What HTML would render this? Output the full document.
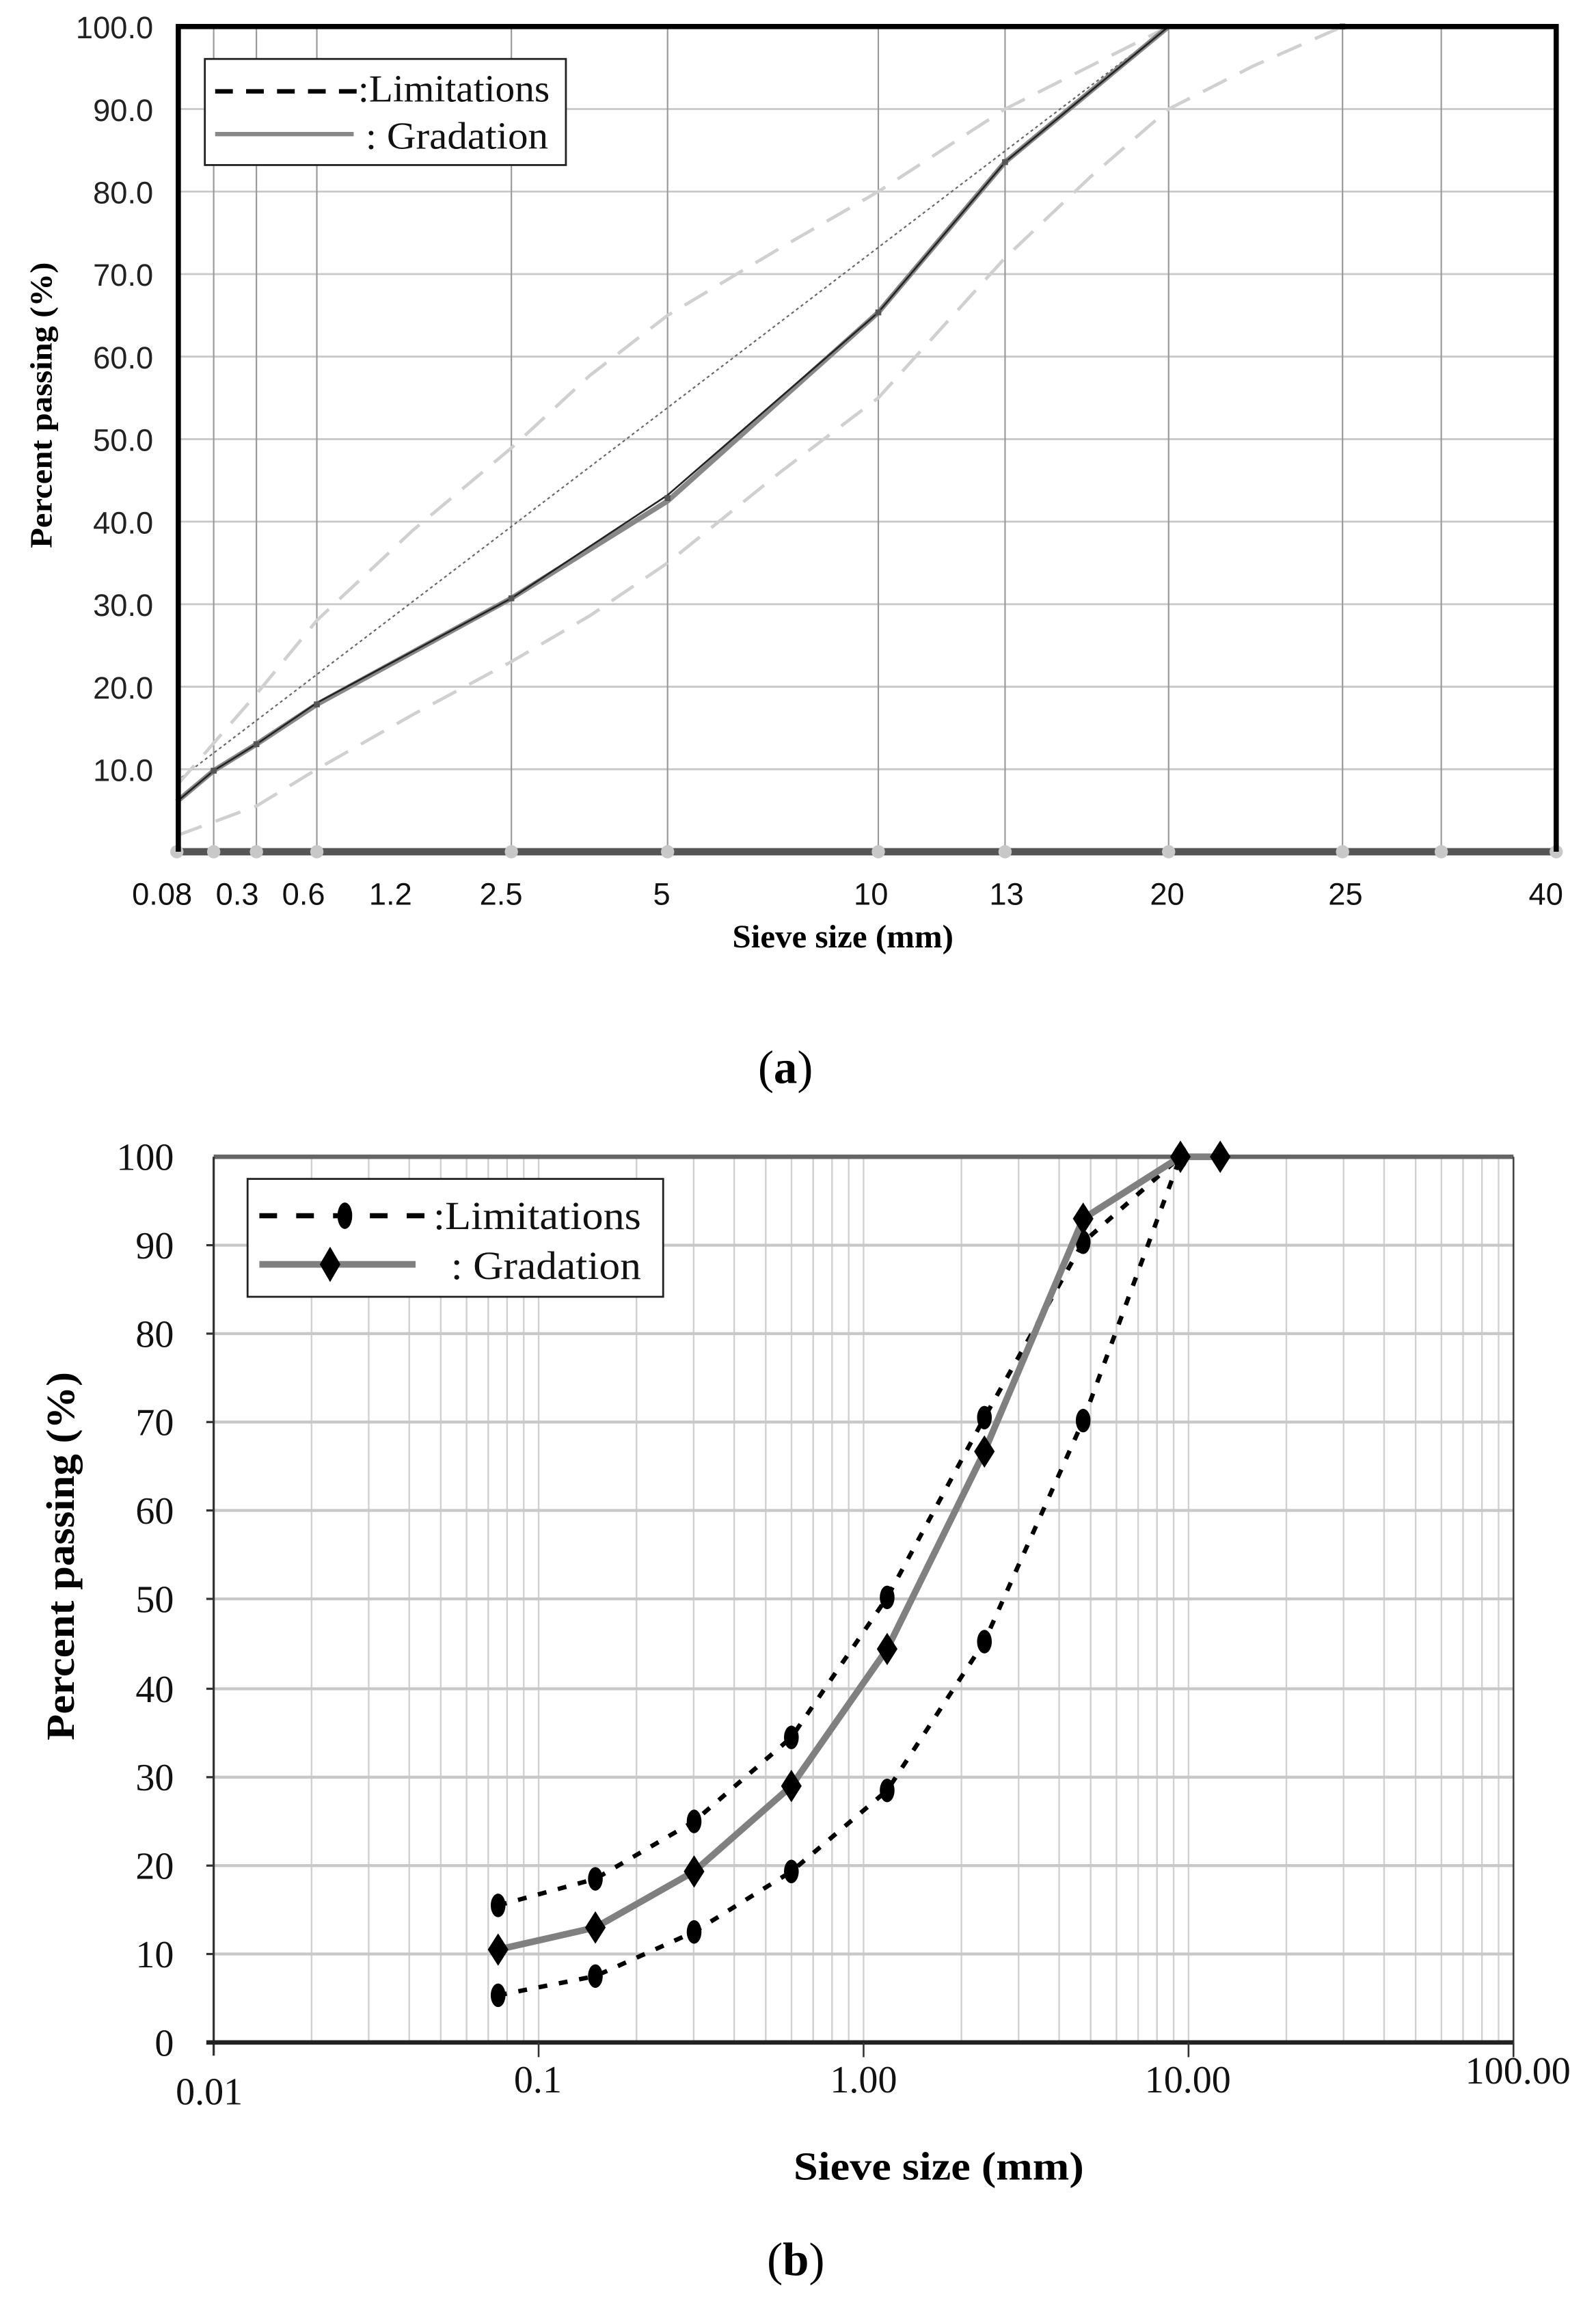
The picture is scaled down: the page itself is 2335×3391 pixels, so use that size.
<!DOCTYPE html>
<html><head><meta charset="utf-8"><style>
html,body{margin:0;padding:0;background:#fff}
svg{display:block}
</style></head><body>
<svg width="2335" height="3391" viewBox="0 0 1083 1573" preserveAspectRatio="none" xmlns="http://www.w3.org/2000/svg">
<rect width="1083" height="1573" fill="#fff"/>
<!-- ===== Chart A ===== -->
<g stroke="#c8c8c8" stroke-width="1.3">
<line x1="120" y1="74" x2="1056" y2="74"/><line x1="120" y1="130" x2="1056" y2="130"/>
<line x1="120" y1="186" x2="1056" y2="186"/><line x1="120" y1="242" x2="1056" y2="242"/>
<line x1="120" y1="298" x2="1056" y2="298"/><line x1="120" y1="354" x2="1056" y2="354"/>
<line x1="120" y1="410" x2="1056" y2="410"/><line x1="120" y1="466" x2="1056" y2="466"/>
<line x1="120" y1="522" x2="1056" y2="522"/>
</g>
<g stroke="#999" stroke-width="1">
<line x1="145" y1="18" x2="145" y2="578"/><line x1="174" y1="18" x2="174" y2="578"/>
<line x1="215" y1="18" x2="215" y2="578"/><line x1="347" y1="18" x2="347" y2="578"/>
<line x1="453" y1="18" x2="453" y2="578"/><line x1="596" y1="18" x2="596" y2="578"/>
<line x1="682" y1="18" x2="682" y2="578"/><line x1="793" y1="18" x2="793" y2="578"/>
<line x1="911" y1="18" x2="911" y2="578"/><line x1="978" y1="18" x2="978" y2="578"/>
</g>
<line x1="120" y1="530" x2="793" y2="18" stroke="#666" stroke-width="1" stroke-dasharray="2,2"/>
<polyline fill="none" stroke="#d0d0d0" stroke-width="2.2" stroke-dasharray="18,10" points="120,533 174,471 215,421 280,360 347,304 400,255 453,214 530,168 596,130 682,74 793,18"/>
<polyline fill="none" stroke="#d0d0d0" stroke-width="2.2" stroke-dasharray="18,10" points="120,567 174,547 215,522 280,485 347,449 400,418 453,382 530,320 596,270 682,175 740,120 793,74 850,45 911,18 1056,18"/>
<polyline fill="none" stroke="#888" stroke-width="3.5" points="120,544 145,523 174,505 215,478 347,406 453,340 596,212 682,110 793,18 1056,18"/>
<polyline fill="none" stroke="#222" stroke-width="1.2" points="120,544 145,523 174,505 215,477 347,406 453,336 596,212 682,110 793,18 1056,18"/>
<g fill="#555"><rect x="143" y="521" width="4" height="4"/><rect x="172" y="503" width="4" height="4"/><rect x="213" y="476" width="4" height="4"/><rect x="345" y="404" width="4" height="4"/><rect x="451" y="336" width="4" height="4"/><rect x="594" y="210" width="4" height="4"/><rect x="680" y="108" width="4" height="4"/><rect x="909" y="16" width="4" height="4"/></g>
<line x1="120" y1="578" x2="1056" y2="578" stroke="#555" stroke-width="5"/>
<g fill="#c8c8c8"><circle cx="120" cy="578" r="4.5"/><circle cx="145" cy="578" r="4.5"/><circle cx="174" cy="578" r="4.5"/><circle cx="215" cy="578" r="4.5"/><circle cx="347" cy="578" r="4.5"/><circle cx="453" cy="578" r="4.5"/><circle cx="596" cy="578" r="4.5"/><circle cx="682" cy="578" r="4.5"/><circle cx="793" cy="578" r="4.5"/><circle cx="911" cy="578" r="4.5"/><circle cx="978" cy="578" r="4.5"/><circle cx="1056" cy="578" r="4.5"/></g>
<polyline fill="none" stroke="#000" stroke-width="3.5" points="121,578 121,18 1056,18 1056,578"/>
<rect x="139" y="40" width="245" height="72" fill="#fff" stroke="#222" stroke-width="1.3"/>
<line x1="146" y1="62" x2="245" y2="62" stroke="#000" stroke-width="3" stroke-dasharray="12,9"/>
<line x1="146" y1="91" x2="240" y2="91" stroke="#888" stroke-width="3"/>
<g font-family="Liberation Serif, serif" font-size="26" fill="#111">
<text x="243" y="69" textLength="130" lengthAdjust="spacingAndGlyphs">:Limitations</text><text x="248" y="101" textLength="124" lengthAdjust="spacingAndGlyphs">: Gradation</text></g>
<g font-family="Liberation Sans, sans-serif" font-size="21" fill="#222" text-anchor="end">
<text x="104" y="26">100.0</text><text x="104" y="82">90.0</text><text x="104" y="138">80.0</text><text x="104" y="194">70.0</text><text x="104" y="250">60.0</text><text x="104" y="306">50.0</text><text x="104" y="362">40.0</text><text x="104" y="418">30.0</text><text x="104" y="474">20.0</text><text x="104" y="530">10.0</text></g>
<g font-family="Liberation Sans, sans-serif" font-size="21" fill="#111" text-anchor="middle">
<text x="110" y="614">0.08</text><text x="161" y="614">0.3</text><text x="206" y="614">0.6</text><text x="265" y="614">1.2</text><text x="340" y="614">2.5</text><text x="449" y="614">5</text><text x="591" y="614">10</text><text x="683" y="614">13</text><text x="792" y="614">20</text><text x="913" y="614">25</text><text x="1049" y="614">40</text></g>
<text x="572" y="643" font-family="Liberation Serif, serif" font-size="22" font-weight="bold" text-anchor="middle" textLength="150" lengthAdjust="spacingAndGlyphs">Sieve size (mm)</text>
<text transform="translate(35,275) rotate(-90)" font-family="Liberation Serif, serif" font-size="21" font-weight="bold" text-anchor="middle" textLength="194" lengthAdjust="spacingAndGlyphs">Percent passing (%)</text>
<text x="533" y="735" font-family="Liberation Serif, serif" font-size="32" text-anchor="middle">(<tspan font-weight="bold">a</tspan>)</text>

<!-- ===== Chart B ===== -->
<g stroke="#d0d0d0" stroke-width="1.1">
<line x1="211.4" y1="785" x2="211.4" y2="1386"/><line x1="250.2" y1="785" x2="250.2" y2="1386"/><line x1="277.7" y1="785" x2="277.7" y2="1386"/><line x1="299.1" y1="785" x2="299.1" y2="1386"/><line x1="316.6" y1="785" x2="316.6" y2="1386"/><line x1="331.3" y1="785" x2="331.3" y2="1386"/><line x1="344.1" y1="785" x2="344.1" y2="1386"/><line x1="355.4" y1="785" x2="355.4" y2="1386"/>
<line x1="365.5" y1="785" x2="365.5" y2="1386"/>
<line x1="431.9" y1="785" x2="431.9" y2="1386"/><line x1="470.7" y1="785" x2="470.7" y2="1386"/><line x1="498.2" y1="785" x2="498.2" y2="1386"/><line x1="519.6" y1="785" x2="519.6" y2="1386"/><line x1="537.1" y1="785" x2="537.1" y2="1386"/><line x1="551.8" y1="785" x2="551.8" y2="1386"/><line x1="564.6" y1="785" x2="564.6" y2="1386"/><line x1="575.9" y1="785" x2="575.9" y2="1386"/>
<line x1="586" y1="785" x2="586" y2="1386"/>
<line x1="652.4" y1="785" x2="652.4" y2="1386"/><line x1="691.2" y1="785" x2="691.2" y2="1386"/><line x1="718.7" y1="785" x2="718.7" y2="1386"/><line x1="740.1" y1="785" x2="740.1" y2="1386"/><line x1="757.6" y1="785" x2="757.6" y2="1386"/><line x1="772.3" y1="785" x2="772.3" y2="1386"/><line x1="785.1" y1="785" x2="785.1" y2="1386"/><line x1="796.4" y1="785" x2="796.4" y2="1386"/>
<line x1="806.5" y1="785" x2="806.5" y2="1386"/>
<line x1="872.9" y1="785" x2="872.9" y2="1386"/><line x1="911.7" y1="785" x2="911.7" y2="1386"/><line x1="939.2" y1="785" x2="939.2" y2="1386"/><line x1="960.6" y1="785" x2="960.6" y2="1386"/><line x1="978.1" y1="785" x2="978.1" y2="1386"/><line x1="992.8" y1="785" x2="992.8" y2="1386"/><line x1="1005.6" y1="785" x2="1005.6" y2="1386"/><line x1="1016.9" y1="785" x2="1016.9" y2="1386"/>
</g>
<g stroke="#c8c8c8" stroke-width="2">
<line x1="145" y1="845" x2="1027" y2="845"/><line x1="145" y1="905" x2="1027" y2="905"/><line x1="145" y1="965" x2="1027" y2="965"/><line x1="145" y1="1025" x2="1027" y2="1025"/><line x1="145" y1="1085" x2="1027" y2="1085"/><line x1="145" y1="1146" x2="1027" y2="1146"/><line x1="145" y1="1206" x2="1027" y2="1206"/><line x1="145" y1="1266" x2="1027" y2="1266"/><line x1="145" y1="1326" x2="1027" y2="1326"/>
</g>
<line x1="145" y1="785" x2="1027" y2="785" stroke="#666" stroke-width="3"/>
<line x1="1027" y1="785" x2="1027" y2="1386" stroke="#444" stroke-width="1.2"/>
<line x1="145" y1="785" x2="145" y2="1395" stroke="#333" stroke-width="1.5"/>
<line x1="140" y1="1386" x2="1027" y2="1386" stroke="#222" stroke-width="3"/>
<g stroke="#333" stroke-width="1.2"><line x1="365.5" y1="1386" x2="365.5" y2="1396"/><line x1="586" y1="1386" x2="586" y2="1396"/><line x1="806.5" y1="1386" x2="806.5" y2="1396"/><line x1="1027" y1="1386" x2="1027" y2="1396"/></g>
<g stroke="#333" stroke-width="1.5"><line x1="140" y1="845" x2="145" y2="845"/><line x1="140" y1="905" x2="145" y2="905"/><line x1="140" y1="965" x2="145" y2="965"/><line x1="140" y1="1025" x2="145" y2="1025"/><line x1="140" y1="1085" x2="145" y2="1085"/><line x1="140" y1="1146" x2="145" y2="1146"/><line x1="140" y1="1206" x2="145" y2="1206"/><line x1="140" y1="1266" x2="145" y2="1266"/><line x1="140" y1="1326" x2="145" y2="1326"/></g>
<g fill="none" stroke="#000" stroke-width="3" stroke-dasharray="6,8">
<polyline points="338,1293 404,1275 471,1236 537,1179 602,1084 668,962 735,843 801,785"/>
<polyline points="338,1354 404,1341 471,1311 537,1270 602,1215 668,1114 735,964 801,785"/>
</g>
<g fill="#000">
<ellipse cx="338" cy="1293" rx="5" ry="8"/><ellipse cx="404" cy="1275" rx="5" ry="8"/><ellipse cx="471" cy="1236" rx="5" ry="8"/><ellipse cx="537" cy="1179" rx="5" ry="8"/><ellipse cx="602" cy="1084" rx="5" ry="8"/><ellipse cx="668" cy="962" rx="5" ry="8"/><ellipse cx="735" cy="843" rx="5" ry="8"/><ellipse cx="801" cy="785" rx="5" ry="8"/>
<ellipse cx="338" cy="1354" rx="5" ry="8"/><ellipse cx="404" cy="1341" rx="5" ry="8"/><ellipse cx="471" cy="1311" rx="5" ry="8"/><ellipse cx="537" cy="1270" rx="5" ry="8"/><ellipse cx="602" cy="1215" rx="5" ry="8"/><ellipse cx="668" cy="1114" rx="5" ry="8"/><ellipse cx="735" cy="964" rx="5" ry="8"/>
</g>
<polyline fill="none" stroke="#808080" stroke-width="4.5" points="338,1323 404,1308 471,1270 537,1212 602,1119 668,985 735,827 801,785 828,785"/>
<g fill="#000">
<path d="M338,1312 l7,11 l-7,11 l-7,-11z"/><path d="M404,1297 l7,11 l-7,11 l-7,-11z"/><path d="M471,1259 l7,11 l-7,11 l-7,-11z"/><path d="M537,1201 l7,11 l-7,11 l-7,-11z"/><path d="M602,1108 l7,11 l-7,11 l-7,-11z"/><path d="M668,974 l7,11 l-7,11 l-7,-11z"/><path d="M735,816 l7,11 l-7,11 l-7,-11z"/><path d="M801,774 l7,11 l-7,11 l-7,-11z"/><path d="M828,774 l7,11 l-7,11 l-7,-11z"/>
</g>
<rect x="168" y="800" width="282" height="80" fill="#fff" stroke="#222" stroke-width="1.3"/>
<line x1="176" y1="825" x2="295" y2="825" stroke="#000" stroke-width="3.5" stroke-dasharray="12,13"/>
<ellipse cx="234" cy="825" rx="5" ry="9" fill="#000"/>
<line x1="176" y1="858" x2="282" y2="858" stroke="#808080" stroke-width="4.5"/>
<path d="M224,846 l7,12 l-7,12 l-7,-12z" fill="#000"/>
<g font-family="Liberation Serif, serif" font-size="27" fill="#111">
<text x="294" y="834" textLength="141" lengthAdjust="spacingAndGlyphs">:Limitations</text><text x="306" y="868" textLength="129" lengthAdjust="spacingAndGlyphs">: Gradation</text></g>
<g font-family="Liberation Serif, serif" font-size="26" fill="#111" text-anchor="end">
<text x="118" y="794">100</text><text x="118" y="854">90</text><text x="118" y="914">80</text><text x="118" y="974">70</text><text x="118" y="1034">60</text><text x="118" y="1094">50</text><text x="118" y="1155">40</text><text x="118" y="1215">30</text><text x="118" y="1275">20</text><text x="118" y="1335">10</text><text x="118" y="1395">0</text></g>
<g font-family="Liberation Serif, serif" font-size="26" fill="#111" text-anchor="middle">
<text x="142" y="1428">0.01</text><text x="365" y="1420">0.1</text><text x="586" y="1420">1.00</text><text x="806" y="1420">10.00</text><text x="1030" y="1414">100.00</text></g>
<text x="637" y="1479" font-family="Liberation Serif, serif" font-size="27" font-weight="bold" text-anchor="middle" textLength="197" lengthAdjust="spacingAndGlyphs">Sieve size (mm)</text>
<text transform="translate(50,1056) rotate(-90)" font-family="Liberation Serif, serif" font-size="27" font-weight="bold" text-anchor="middle" textLength="250" lengthAdjust="spacingAndGlyphs">Percent passing (%)</text>
<text x="540" y="1544" font-family="Liberation Serif, serif" font-size="32" text-anchor="middle">(<tspan font-weight="bold">b</tspan>)</text>
</svg>
</body></html>
